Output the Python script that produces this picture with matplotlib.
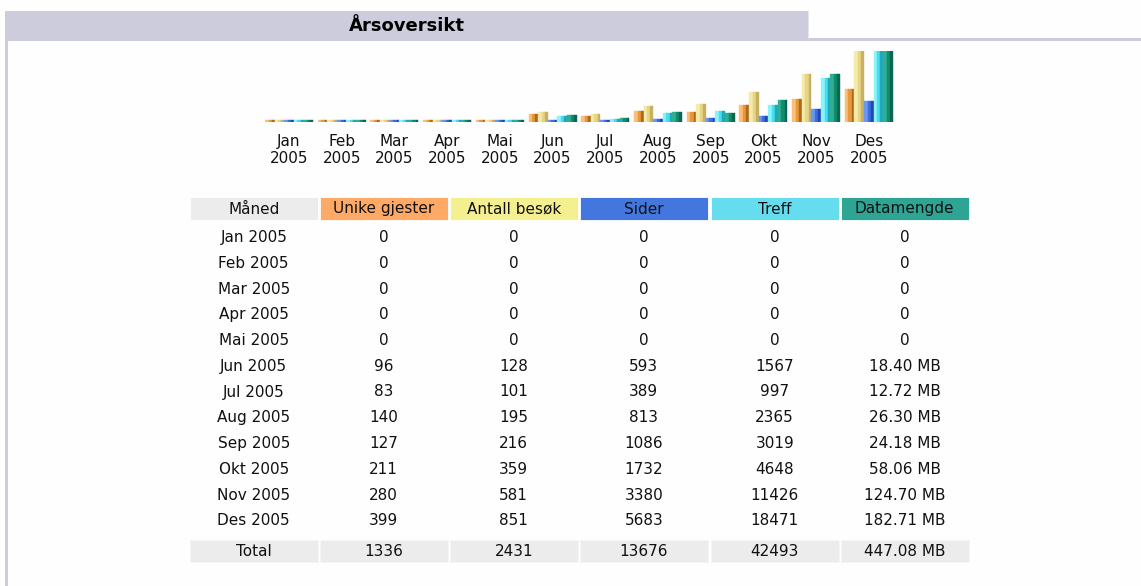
import matplotlib
matplotlib.use("Agg")
import matplotlib.pyplot as plt
from matplotlib.patches import Rectangle

# ---------------- data ----------------
months = ["Jan", "Feb", "Mar", "Apr", "Mai", "Jun", "Jul", "Aug", "Sep", "Okt", "Nov", "Des"]
year = "2005"
unique_visitors = [0, 0, 0, 0, 0, 96, 83, 140, 127, 211, 280, 399]
visits = [0, 0, 0, 0, 0, 128, 101, 195, 216, 359, 581, 851]
pages = [0, 0, 0, 0, 0, 593, 389, 813, 1086, 1732, 3380, 5683]
hits = [0, 0, 0, 0, 0, 1567, 997, 2365, 3019, 4648, 11426, 18471]
bandwidth_mb = [0, 0, 0, 0, 0, 18.40, 12.72, 26.30, 24.18, 58.06, 124.70, 182.71]
totals = ["1336", "2431", "13676", "42493", "447.08 MB"]
headers = ["Måned", "Unike gjester", "Antall besøk", "Sider", "Treff", "Datamengde"]
title = "Årsoversikt"

# ---------------- style ----------------
W, H = 1141, 586
FS = 11
TXT = "#111111"
header_colors = ["#ECECEC", "#FFA966", "#F4F090", "#4477DD", "#66DDEE", "#2EA495"]
# gradient strips (highlight, base, shadow) for each series bar
bar_shades = [
    ["#F8C078", "#E8983C", "#B06818"],
    ["#F6EAA8", "#E6D488", "#C8B060"],
    ["#6A98F0", "#3C6CE0", "#2048B0"],
    ["#8AF4FA", "#48DCEC", "#20A8C0"],
    ["#30B090", "#128C70", "#0A6850"],
]
lilac = "#CCCCDD"

fig = plt.figure(figsize=(W / 100, H / 100), dpi=100)
fig.patch.set_facecolor("#FEFEFE")

bg = fig.add_axes([0, 0, 1, 1])
bg.set_xlim(0, W)
bg.set_ylim(H, 0)
bg.axis("off")

# title band
bg.add_patch(Rectangle((5, 11), 803, 30, facecolor=lilac, edgecolor="none"))
bg.add_patch(Rectangle((808, 38), W - 808, 3, facecolor=lilac, edgecolor="none"))
bg.add_patch(Rectangle((808, 11), 1.2, 28, facecolor="#E4E4EC", edgecolor="none"))
bg.add_patch(Rectangle((5, 41), 2.5, H - 41, facecolor=lilac, edgecolor="none"))
bg.text(407, 26, title, ha="center", va="center", fontsize=13, fontweight="bold",
        color="#000000")

# ---------------- bar chart ----------------
left_px, right_px, base_px, top_px = 265, 897.5, 122.5, 51
bx = fig.add_axes([left_px / W, (H - base_px) / H, (right_px - left_px) / W,
                   (base_px - top_px) / H])
bx.set_xlim(0, 12)
bx.set_ylim(0, 1)
for s in bx.spines.values():
    s.set_visible(False)
bx.set_yticks([])
bx.patch.set_alpha(0)

vmax = max(visits)
hmax = max(hits)
kmax = max(bandwidth_mb)
series = [
    [u / vmax for u in unique_visitors],
    [v / vmax for v in visits],
    [p / hmax for p in pages],
    [h / hmax for h in hits],
    [k / kmax for k in bandwidth_mb],
]
min_h = 2.0 / (base_px - top_px)
group_w = 0.91
bw = group_w / 5
strip_frac = [0.0, 0.38, 0.72, 1.0]
for j, vals in enumerate(series):
    for i, v in enumerate(vals):
        h = max(v, min_h)
        x0 = i + j * bw
        for k in range(3):
            a = x0 + strip_frac[k] * bw
            b = x0 + strip_frac[k + 1] * bw
            bx.bar(a, h, width=b - a, align="edge", color=bar_shades[j][k],
                   linewidth=0.3, edgecolor=bar_shades[j][k])

bx.set_xticks([i + group_w / 2 for i in range(12)])
bx.set_xticklabels([f"{m}\n{year}" for m in months], fontsize=FS, linespacing=1.2,
                   color=TXT)
bx.tick_params(axis="x", length=0, pad=8)

# ---------------- table ----------------
col_left = [190, 320, 450, 580, 711, 841]
col_w = 127.5
hdr_top, hdr_h = 197, 23
for c in range(6):
    bg.add_patch(Rectangle((col_left[c], hdr_top), col_w, hdr_h,
                           facecolor=header_colors[c], edgecolor="#FFFFFF",
                           linewidth=0.6, alpha=1))
    bg.text(col_left[c] + col_w / 2, hdr_top + hdr_h / 2 + 0.5, headers[c],
            ha="center", va="center", fontsize=FS, color=TXT)

row_y0 = 237.5
row_pitch = 25.75


def fmt_bw(v):
    return "0" if v == 0 else f"{v:.2f} MB"


for i, m in enumerate(months):
    y = row_y0 + i * row_pitch
    vals = [f"{m} {year}", str(unique_visitors[i]), str(visits[i]), str(pages[i]),
            str(hits[i]), fmt_bw(bandwidth_mb[i])]
    for c in range(6):
        bg.text(col_left[c] + col_w / 2, y, vals[c], ha="center", va="center",
                fontsize=FS, color=TXT)

tot_top, tot_h = 539.5, 22.5
tot_vals = ["Total"] + totals
for c in range(6):
    bg.add_patch(Rectangle((col_left[c], tot_top), col_w, tot_h,
                           facecolor="#ECECEC", edgecolor="#F6F6F6", linewidth=0.6))
    bg.text(col_left[c] + col_w / 2, tot_top + tot_h / 2 + 0.5, tot_vals[c],
            ha="center", va="center", fontsize=FS, color=TXT)

fig.savefig("out.png", dpi=100, facecolor=fig.get_facecolor())
